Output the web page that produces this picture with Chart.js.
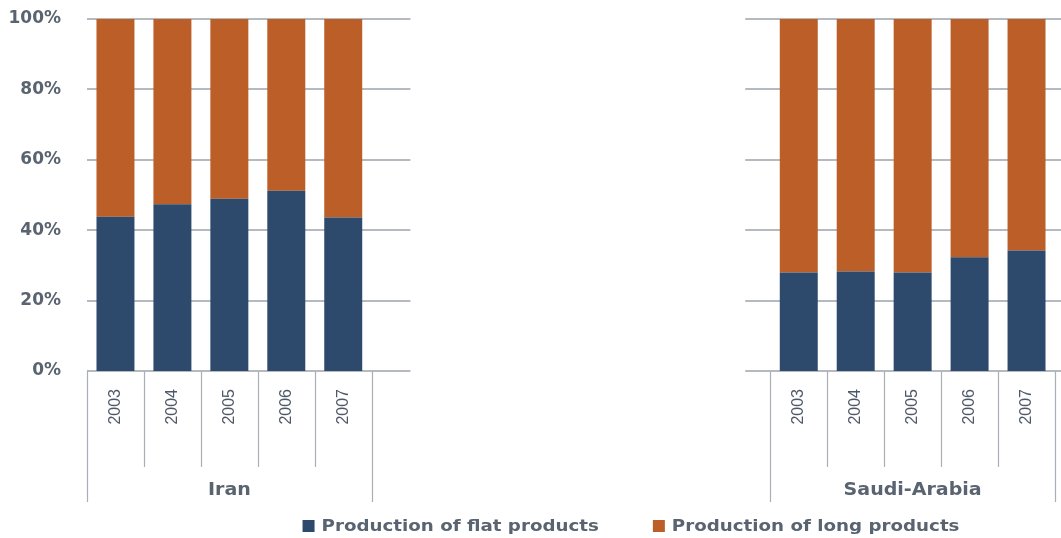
<!DOCTYPE html>
<html>
<head>
<meta charset="utf-8">
<script src="https://cdn.jsdelivr.net/npm/chart.js@4.4.1/dist/chart.umd.min.js"></script>
<style>
  html, body { margin: 0; padding: 0; background: #ffffff; }
  #wrap { position: relative; width: 1061px; height: 538px; }
</style>
</head>
<body>
<div id="wrap"><canvas id="c"></canvas></div>
<script>
// ---- data ----
const groups = ['Iran', 'Saudi-Arabia'];
const years = ['2003', '2004', '2005', '2006', '2007'];
const gapSlots = 7;
const iranFlat  = [43.8, 47.4, 48.9, 51.2, 43.6];
const iranLong  = [56.2, 52.6, 51.1, 48.8, 56.4];
const saudiFlat = [28.0, 28.3, 28.0, 32.3, 34.2];
const saudiLong = [72.0, 71.7, 72.0, 67.7, 65.8];
const yTicks = [0, 20, 40, 60, 80, 100];
const seriesNames = ['Production of flat products', 'Production of long products'];

// ---- build ----
const blanks = Array(gapSlots).fill(null);
const labels = [...years, ...Array(gapSlots).fill(''), ...years];
const flatData = [...iranFlat, ...blanks, ...saudiFlat];
const longData = [...iranLong, ...blanks, ...saudiLong];
const groupStarts = [0, years.length + gapSlots];

const TEXT = '#5a6471';
const GRID = '#b5bac0';
const SEP = '#a9afb6';
const NAVY = '#2d4a6d';
const ORANGE = '#bb5e28';

function stretchedText(ctx, text, x, y, sx, align) {
  const w = ctx.measureText(text).width * sx;
  let left = x;
  if (align === 'center') left = x - w / 2;
  ctx.save();
  ctx.textAlign = 'left';
  ctx.translate(left, y);
  ctx.scale(sx, 1);
  ctx.fillText(text, 0, 0);
  ctx.restore();
  return w;
}

const decor = {
  id: 'decor',
  beforeDatasetsDraw(chart) {
    const { ctx, scales: { x, y }, chartArea } = chart;
    const catW = (chartArea.right - chartArea.left) / labels.length;
    const leftEnd = x.getPixelForValue(groupStarts[0] + years.length - 1) + catW * 0.5 + catW * 0.68;
    const rightStart = x.getPixelForValue(groupStarts[1]) - catW * 0.5 - catW * 0.44;
    ctx.save();
    ctx.strokeStyle = GRID;
    ctx.lineWidth = 2;
    yTicks.forEach(v => {
      const py = Math.round(y.getPixelForValue(v));
      ctx.beginPath();
      ctx.moveTo(chartArea.left, py);
      ctx.lineTo(leftEnd, py);
      ctx.moveTo(rightStart, py);
      ctx.lineTo(chart.width, py);
      ctx.stroke();
    });
    ctx.restore();
  },
  afterDraw(chart) {
    const { ctx, scales: { x, y }, chartArea } = chart;
    const catW = (chartArea.right - chartArea.left) / labels.length;
    const base = y.getPixelForValue(0);
    ctx.save();
    ctx.strokeStyle = SEP;
    ctx.lineWidth = 1.2;
    groups.forEach((g, gi) => {
      const s = groupStarts[gi];
      const x0 = x.getPixelForValue(s) - catW / 2;
      for (let i = 0; i <= years.length; i++) {
        const px = Math.round(x0 + i * catW) + 0.5;
        const outer = (i === 0 || i === years.length);
        ctx.beginPath();
        ctx.moveTo(px, base);
        ctx.lineTo(px, outer ? base + 131 : base + 96);
        ctx.stroke();
      }
      ctx.fillStyle = TEXT;
      ctx.font = 'bold 17px "DejaVu Sans"';
      ctx.textBaseline = 'middle';
      stretchedText(ctx, g, x0 + catW * years.length / 2, base + 120, 1.12, 'center');
    });

    // legend
    const ds = chart.data.datasets;
    const sx = 1.14;
    ctx.font = 'bold 16px "DejaVu Sans"';
    ctx.textBaseline = 'middle';
    const widths = ds.map(d => ctx.measureText(d.label).width * sx);
    const box = 12, boxGap = 7, itemGap = 54;
    const total = widths.reduce((a, w) => a + box + boxGap + w, 0) + itemGap * (ds.length - 1);
    let cx = 631 - total / 2;
    const cy = 526;
    ds.forEach((d, i) => {
      ctx.fillStyle = d.backgroundColor;
      ctx.fillRect(cx, cy - box / 2, box, box);
      ctx.fillStyle = TEXT;
      stretchedText(ctx, d.label, cx + box + boxGap, cy + 1, sx, 'left');
      cx += box + boxGap + widths[i] + itemGap;
    });
    ctx.restore();
  }
};

Chart.defaults.font.family = '"DejaVu Sans", sans-serif';

new Chart(document.getElementById('c'), {
  type: 'bar',
  data: {
    labels: labels,
    datasets: [
      { label: seriesNames[0], data: flatData, backgroundColor: NAVY, categoryPercentage: 1, barPercentage: 0.667 },
      { label: seriesNames[1], data: longData, backgroundColor: ORANGE, categoryPercentage: 1, barPercentage: 0.667 }
    ]
  },
  options: {
    responsive: true,
    maintainAspectRatio: false,
    animation: false,
    layout: { padding: { top: 19, right: 6, bottom: 24, left: 0 } },
    plugins: { legend: { display: false }, tooltip: { enabled: false } },
    scales: {
      x: {
        stacked: true,
        grid: { display: false },
        border: { display: false },
        ticks: {
          autoSkip: false,
          minRotation: 90,
          maxRotation: 90,
          padding: 10,
          color: '#4e5866',
          font: { family: '"Liberation Sans", Arial, sans-serif', size: 16 }
        },
        afterFit(s) { s.height = 143; s.paddingLeft = 0; s.paddingRight = 0; s.paddingTop = 0; s.paddingBottom = 0; }
      },
      y: {
        stacked: true,
        min: 0,
        max: 100,
        grid: { display: false },
        border: { display: false },
        ticks: {
          stepSize: 20,
          padding: 18,
          color: TEXT,
          font: { family: '"DejaVu Sans"', weight: 'bold', size: 17 },
          callback: v => v + '%'
        },
        afterFit(s) { s.width = 87; s.paddingTop = 0; s.paddingBottom = 0; }
      }
    }
  },
  plugins: [decor]
});
</script>
</body>
</html>
